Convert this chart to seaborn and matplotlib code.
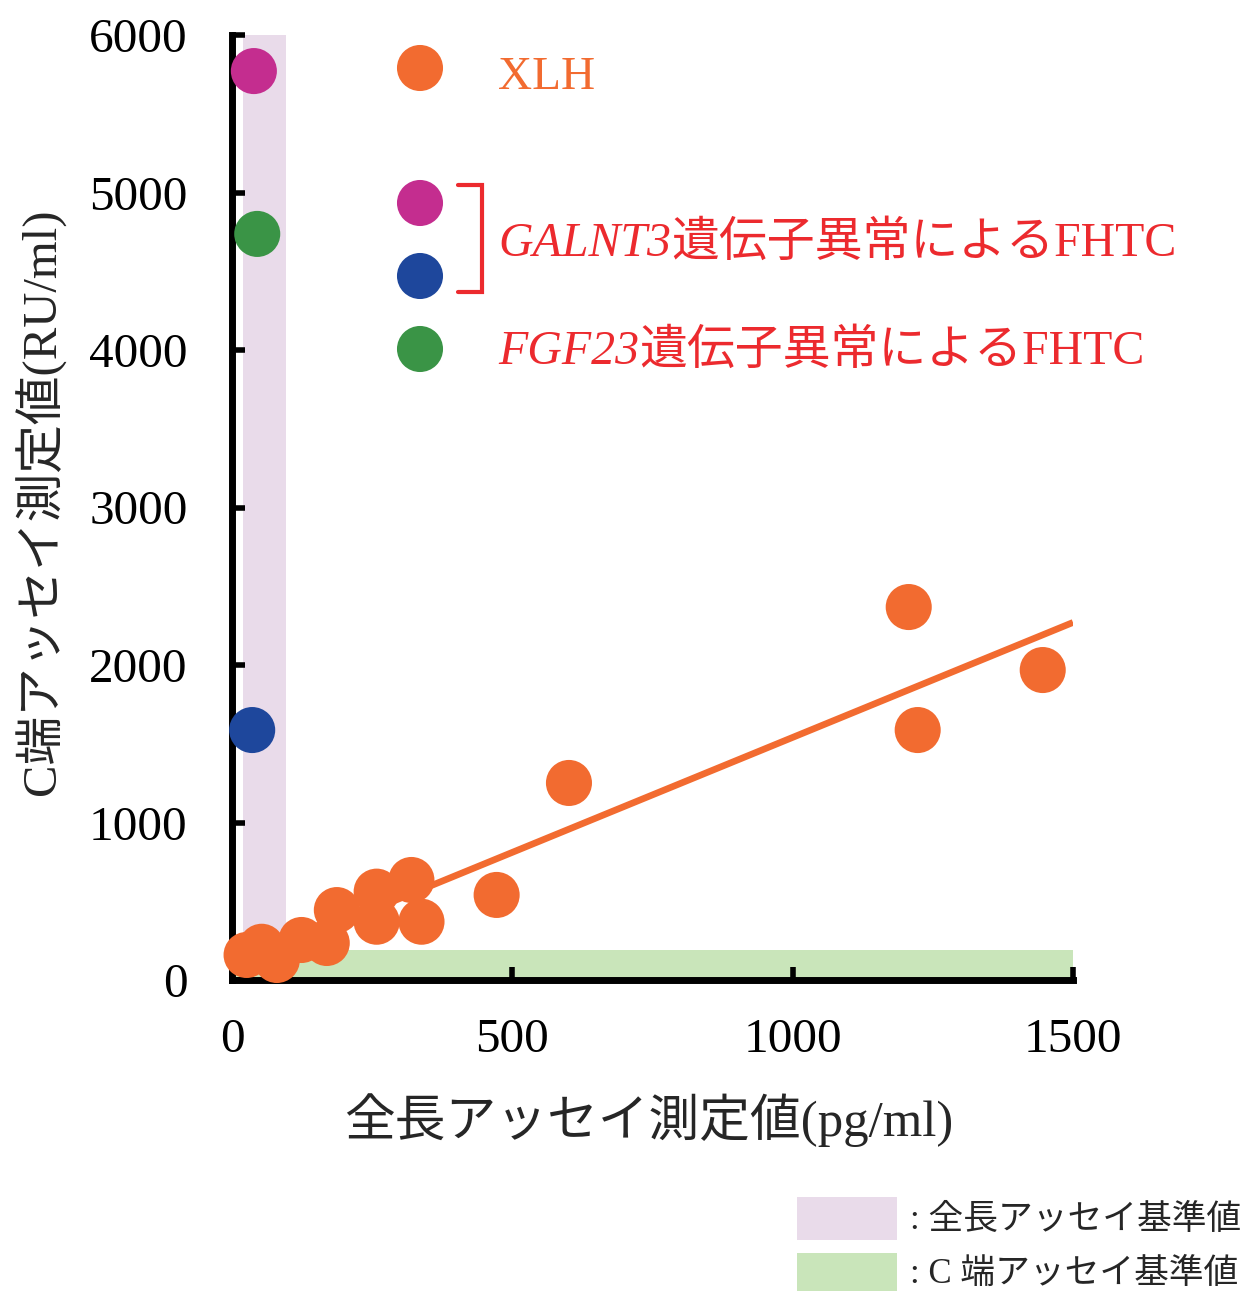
import numpy as np
import pandas as pd
import matplotlib
matplotlib.use("Agg")
import matplotlib.pyplot as plt
from matplotlib.patches import Rectangle
import seaborn as sns

# ---------------- data ----------------
xlh_full = [26, 53, 80, 124, 169, 187, 258, 258, 320, 338, 472, 601, 1207, 1223, 1446]
xlh_cterm = [159, 211, 127, 254, 235, 444, 561, 370, 635, 370, 540, 1251, 2368, 1587, 1968]
galnt3_a_full = [39]
galnt3_a_cterm = [5771]
galnt3_b_full = [36]
galnt3_b_cterm = [1587]
fgf23_full = [45]
fgf23_cterm = [4737]

full_ref_range = [20, 96]     # 全長アッセイ基準値 (pg/ml)
cterm_ref_range = [0, 190]    # C端アッセイ基準値 (RU/ml)

x_ticks = [0, 500, 1000, 1500]
y_ticks = [0, 1000, 2000, 3000, 4000, 5000, 6000]

groups = ["XLH", "GALNT3_a", "GALNT3_b", "FGF23"]

# ---------------- styles ----------------
orange = "#f26b30"
magenta = "#c42d8f"
blue = "#1e479c"
green = "#3a9446"
lavender = "#e9dbea"
lightgreen = "#c9e5ba"
red = "#ec2a2e"
palette = {"XLH": orange, "GALNT3_a": magenta, "GALNT3_b": blue, "FGF23": green}
msize = 1100

sns.set_style("white")
plt.rcParams["font.family"] = ["Liberation Serif", "Noto Sans CJK JP"]

df = pd.DataFrame({
    "full": xlh_full + galnt3_a_full + galnt3_b_full + fgf23_full,
    "cterm": xlh_cterm + galnt3_a_cterm + galnt3_b_cterm + fgf23_cterm,
    "group": (["XLH"] * len(xlh_full) + ["GALNT3_a"] * len(galnt3_a_full)
              + ["GALNT3_b"] * len(galnt3_b_full) + ["FGF23"] * len(fgf23_full)),
})

W, H = 1247, 1291
fig = plt.figure(figsize=(W / 100, H / 100), dpi=100)
ax = fig.add_axes([232 / W, 1 - 980 / H, 841 / W, 945 / H])
ax.set_xlim(0, 1500)
ax.set_ylim(0, 6000)

# reference ranges
ax.axvspan(*full_ref_range, color=lavender, lw=0, zorder=0)
ax.axhspan(*cterm_ref_range, color=lightgreen, lw=0, zorder=0.5)

# regression line for XLH
sns.regplot(x=xlh_full, y=xlh_cterm, ax=ax, scatter=False, ci=None, truncate=False,
            line_kws=dict(color=orange, lw=4.8, zorder=2, solid_capstyle="butt"))

# points
sns.scatterplot(data=df, x="full", y="cterm", hue="group", hue_order=groups,
                palette=palette, s=msize, linewidth=0, ax=ax, legend=False,
                clip_on=False, zorder=4)

ax.set_xlim(0, 1500)
ax.set_ylim(0, 6000)
ax.set_xticks(x_ticks)
ax.set_yticks(y_ticks)

for side in ["top", "right"]:
    ax.spines[side].set_visible(False)
for side in ["left", "bottom"]:
    ax.spines[side].set_linewidth(5)
    ax.spines[side].set_color("black")
    ax.spines[side].set_zorder(3)

ax.tick_params(axis="both", direction="in", length=9.5, width=4, colors="black",
               labelsize=35.5, bottom=True, left=True)
ax.tick_params(axis="y", pad=32)
ax.tick_params(axis="x", pad=27)

ax.set_xlabel("全長アッセイ測定値(pg/ml)", fontsize=36.5, va="center")
ax.xaxis.set_label_coords((649 - 232) / 841, (980 - 1120) / 945)
ax.set_ylabel("C端アッセイ測定値(RU/ml)", fontsize=35, va="center")
ax.yaxis.set_label_coords((40 - 232) / 841, (980 - 502) / 945)

# in-plot legend
lx = (420 - 232) / 841
ly = [(980 - p) / 945 for p in (68, 203, 276, 349)]
ax.scatter([lx] * 4, ly, s=msize, c=[orange, magenta, blue, green], linewidths=0,
           transform=ax.transAxes, clip_on=False, zorder=4)
tx = (498 - 232) / 841
ax.text(tx, (980 - 89) / 945, "XLH", color=orange, fontsize=34, va="baseline",
        ha="left", transform=ax.transAxes)
italic_parts = [("GALNT3", (980 - 256) / 945), ("FGF23", (980 - 364) / 945)]
rest = "遺伝子異常によるFHTC"
fig.canvas.draw()
for word, by in italic_parts:
    t1 = ax.text(tx, by, word, color=red, fontsize=34.5, style="italic",
                 va="baseline", ha="left", transform=ax.transAxes)
    bb = t1.get_window_extent(renderer=fig.canvas.get_renderer())
    xr = ax.transAxes.inverted().transform((bb.x1, bb.y0))[0]
    ax.text(xr, by, rest, color=red, fontsize=34.5, va="baseline", ha="left",
            transform=ax.transAxes)

bx0, bx1 = (458 - 232) / 841, (482 - 232) / 841
by0, by1 = (980 - 185) / 945, (980 - 292) / 945
ax.plot([bx0, bx1, bx1, bx0], [by0, by0, by1, by1], color=red, lw=3,
        transform=ax.transAxes, clip_on=False, solid_joinstyle="miter")

# bottom legend for reference ranges
fig.add_artist(Rectangle((797 / W, 1 - 1240 / H), 100 / W, 43 / H,
                         transform=fig.transFigure, color=lavender, lw=0))
fig.add_artist(Rectangle((797 / W, 1 - 1291 / H), 100 / W, 38 / H,
                         transform=fig.transFigure, color=lightgreen, lw=0))
fig.text(910 / W, 1 - 1220 / H, ": 全長アッセイ基準値", fontsize=25, va="center", ha="left")
fig.text(910 / W, 1 - 1274 / H, ": C 端アッセイ基準値", fontsize=25, va="center", ha="left")

fig.savefig("out.png", dpi=100)
